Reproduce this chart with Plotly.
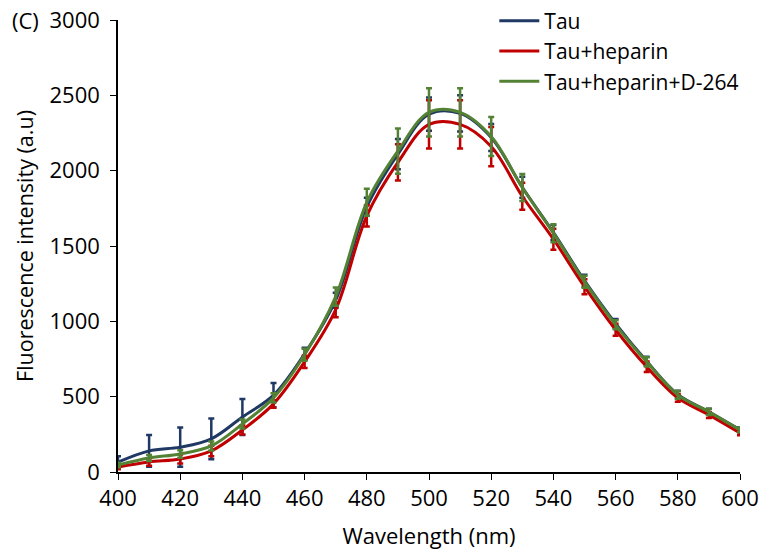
import plotly.graph_objects as go

wavelength = [400, 410, 420, 430, 440, 450, 460, 470, 480, 490, 500,
              510, 520, 530, 540, 550, 560, 570, 580, 590, 600]

tau = [65, 140, 165, 220, 365, 510, 785, 1140, 1760, 2110, 2375,
       2380, 2220, 1890, 1590, 1270, 985, 735, 515, 400, 280]
tau_err = [40, 105, 130, 135, 120, 80, 40, 50, 60, 100, 110,
           120, 90, 70, 50, 40, 30, 30, 25, 20, 15]

tau_hep = [33, 67, 86, 140, 279, 452, 731, 1077, 1700, 2055, 2307,
           2307, 2160, 1830, 1545, 1230, 944, 698, 492, 379, 259]
tau_hep_err = [15, 25, 30, 35, 30, 25, 40, 50, 70, 120, 160,
               160, 130, 90, 70, 50, 40, 35, 25, 20, 15]

tau_hep_d = [47, 93, 120, 173, 319, 492, 778, 1164, 1790, 2130, 2387,
             2387, 2227, 1888, 1585, 1263, 977, 731, 512, 399, 279]
tau_hep_d_err = [15, 20, 25, 30, 30, 30, 40, 60, 90, 150, 160,
                 160, 130, 90, 60, 40, 30, 30, 25, 20, 15]

series = [
    ("Tau", tau, tau_err, "#1F3864"),
    ("Tau+heparin", tau_hep, tau_hep_err, "#C00000"),
    ("Tau+heparin+D-264", tau_hep_d, tau_hep_d_err, "#548235"),
]

FONT = "Open Sans"

fig = go.Figure()
for name, vals, err, color in series:
    fig.add_trace(go.Scatter(
        x=wavelength, y=vals, name=name, mode="lines",
        line=dict(color=color, width=3, shape="spline", smoothing=1.0),
        error_y=dict(type="data", array=err, visible=True,
                     color=color, thickness=2.5, width=3),
    ))

fig.update_layout(
    width=761, height=550,
    margin=dict(l=118, r=21, t=20, b=78, autoexpand=False),
    paper_bgcolor="white", plot_bgcolor="white",
    font=dict(family=FONT, size=22, color="black"),
    showlegend=True,
    legend=dict(x=0.605, y=1.043, xanchor="left", yanchor="top",
                bgcolor="rgba(0,0,0,0)", font=dict(size=21),
                tracegroupgap=0, itemwidth=40),
    xaxis=dict(range=[400, 600], tickvals=list(range(400, 601, 20)),
               showline=True, linecolor="black", linewidth=1.5,
               ticks="outside", ticklen=6, tickcolor="black",
               showgrid=False, zeroline=False, automargin=False,
               ticklabeloverflow="allow",
               title=dict(text="Wavelength (nm)", standoff=18,
                          font=dict(size=22)),
               tickfont=dict(size=22)),
    yaxis=dict(range=[0, 3000], tickvals=list(range(0, 3001, 500)),
               showline=True, linecolor="black", linewidth=1.5,
               ticks="outside", ticklen=6, tickcolor="black",
               showgrid=False, zeroline=False, automargin=False,
               ticklabeloverflow="allow", ticklabelstandoff=6,
               title=dict(text="Fluorescence intensity (a.u)", standoff=10,
                          font=dict(size=21.5)),
               tickfont=dict(size=22)),
    annotations=[dict(text="(C)", xref="paper", yref="paper",
                      x=-0.174, y=1.0, xanchor="left", yanchor="middle",
                      showarrow=False, font=dict(size=22))],
)

fig.write_html("out.html", config={"displayModeBar": False},
               post_script="document.body.style.margin='0';")
